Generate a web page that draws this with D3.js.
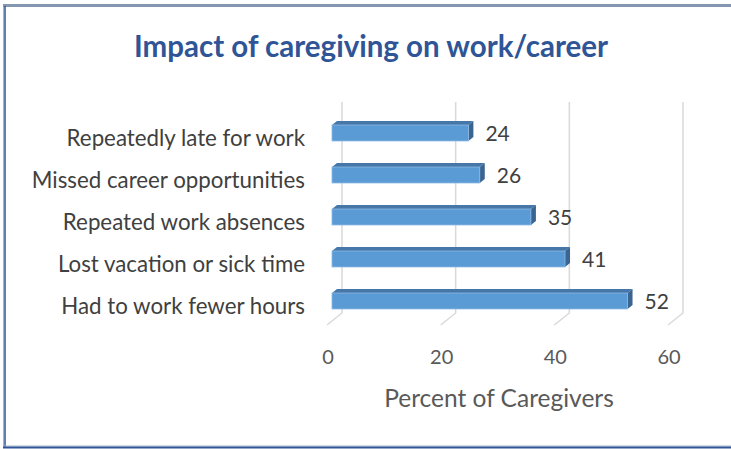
<!doctype html>
<html lang="en">
	<head>
		<meta charset="UTF-8">
		<title>Impact of caregiving on work/career</title>
		<style>
		body { margin: 0; background: #fff; }
		text { font-family: Lato, "Open Sans", sans-serif; }
		.cat { font-size: 22.3px; fill: #404040; text-anchor: end; }
		.tick { font-size: 20px; fill: #595959; text-anchor: middle; }
		.val { font-size: 21px; fill: #404040; }
		.grid { stroke: #d9d9d9; stroke-width: 1.5px; fill: none; }
		</style>
	</head>
	<body>
		<script src="https://cdn.jsdelivr.net/npm/d3@7"></script>
		<script>
			var categories = ["Repeatedly late for work", "Missed career opportunities", "Repeated work absences", "Lost vacation or sick time", "Had to work fewer hours"];
			var values = [24, 26, 35, 41, 52];
			var ticks = [0, 20, 40, 60];

			var width = 731,
				height = 449,
				barFront = -10,   // bar front face offset from back wall
				depthX = 5, depthY = 4,
				floorX = -15, floorY = 12,
				gridTop = 102, gridBottom = 313;

			var svg = d3.select("body").append("svg")
						.attr("width", width)
						.attr("height", height);

			// frame
			svg.append("line").attr("x1", 3.5).attr("x2", 3.5).attr("y1", 5).attr("y2", 448)
				.attr("stroke", "#a6b2c6").attr("stroke-width", 1);
			svg.append("line").attr("x1", 3).attr("x2", 731).attr("y1", 5.5).attr("y2", 5.5)
				.attr("stroke", "#8496b0").attr("stroke-width", 3);
			svg.append("line").attr("x1", 5).attr("x2", 5).attr("y1", 6).attr("y2", 448)
				.attr("stroke", "#2f5597").attr("stroke-width", 1.5);
			svg.append("line").attr("x1", 3).attr("x2", 731).attr("y1", 446).attr("y2", 446)
				.attr("stroke", "#a6b2c6").attr("stroke-width", 1);
			svg.append("line").attr("x1", 3).attr("x2", 731).attr("y1", 447.5).attr("y2", 447.5)
				.attr("stroke", "#2f5597").attr("stroke-width", 2);

			svg.append("text")
				.attr("x", 371).attr("y", 47)
				.attr("dy", "0.35em")
				.attr("text-anchor", "middle")
				.style("font-size", "29.5px").style("font-weight", "bold").style("fill", "#2f5597")
				.text("Impact of caregiving on work/career");

			var x = d3.scaleLinear().domain([0, 60]).range([342, 683]);
			var y = d3.scaleBand().domain(categories).range([112, 322]).paddingInner(0.62).paddingOuter(0.31);

			// gridlines on the back wall and the floor
			svg.selectAll("path.grid")
				.data(ticks)
				.enter()
				.append("path")
				.attr("class", "grid")
				.attr("d", function(d){
					return "M" + x(d) + "," + gridTop + "V" + gridBottom + "l" + floorX + "," + floorY;
				});

			svg.selectAll("text.tick")
				.data(ticks)
				.enter()
				.append("text")
				.attr("class", "tick")
				.attr("x", function(d){ return x(d) + floorX + 1; })
				.attr("y", 357)
				.attr("dy", "0.35em")
				.text(function(d){ return d; });

			var bars = svg.selectAll("g.bar")
				.data(values)
				.enter()
				.append("g")
				.attr("class", "bar");

			function x0(){ return x(0) + barFront; }
			function x1(d){ return x(d) + barFront; }
			function yt(d, i){ return y(categories[i]); }

			// top face
			bars.append("path")
				.attr("fill", "#4677a8")
				.attr("d", function(d, i){
					var t = yt(d, i);
					return "M" + x0() + "," + t + "l" + depthX + "," + (-depthY) + "H" + (x1(d) + depthX) + "l" + (-depthX) + "," + depthY + "Z";
				});
			// right face
			bars.append("path")
				.attr("fill", "#3a6591")
				.attr("d", function(d, i){
					var t = yt(d, i), b = t + y.bandwidth();
					return "M" + x1(d) + "," + t + "l" + depthX + "," + (-depthY) + "V" + (b - depthY) + "l" + (-depthX) + "," + depthY + "Z";
				});
			// front face
			bars.append("rect")
				.attr("fill", "#5b9bd5")
				.attr("stroke", "#8ab8e4").attr("stroke-width", 0.8)
				.attr("x", x0())
				.attr("y", function(d, i){ return yt(d, i); })
				.attr("width", function(d){ return x1(d) - x0(); })
				.attr("height", y.bandwidth());

			bars.append("text")
				.attr("class", "val")
				.attr("x", function(d){ return x1(d) + 17; })
				.attr("y", function(d, i){ return yt(d, i) + y.bandwidth() / 2 + 1; })
				.attr("dy", "0.35em")
				.text(function(d){ return d; });

			svg.selectAll("text.cat")
				.data(categories)
				.enter()
				.append("text")
				.attr("class", "cat")
				.attr("x", 305)
				.attr("y", function(d){ return y(d) + y.bandwidth() / 2 + 5; })
				.attr("dy", "0.35em")
				.text(function(d){ return d; });

			svg.append("text")
				.attr("x", 499).attr("y", 398)
				.attr("dy", "0.35em")
				.attr("text-anchor", "middle")
				.style("font-size", "24.5px").style("fill", "#595959")
				.text("Percent of Caregivers");
		</script>
	</body>
</html>
